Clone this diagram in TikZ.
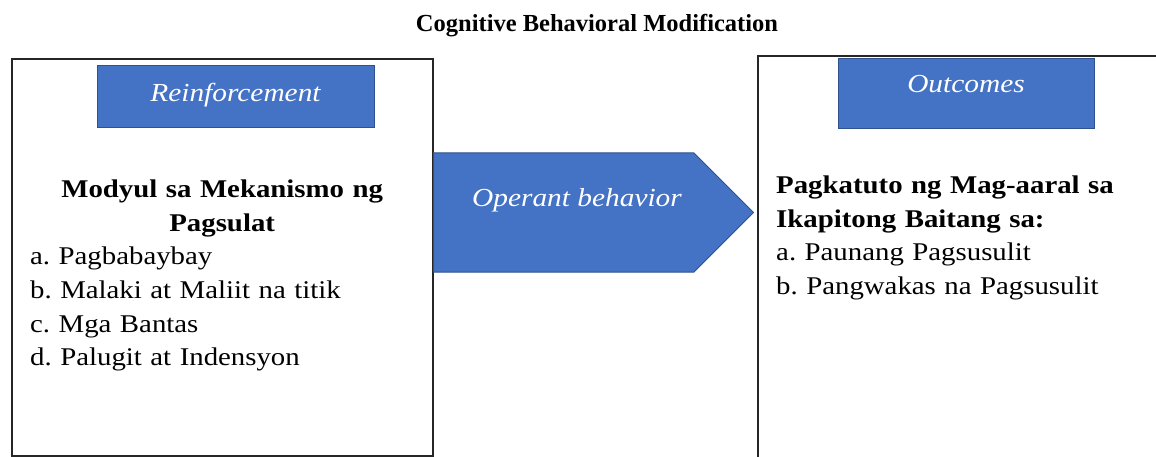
\documentclass[tikz,border=0pt]{standalone}
\usepackage{fontspec}
\setmainfont[FakeStretch=1.13]{Liberation Serif}
\newfontfamily\titlefont{Liberation Serif}
\usetikzlibrary{calc,shapes.symbols}
\definecolor{boxblue}{HTML}{4472C4}
\definecolor{boxedge}{HTML}{2F528F}
\frenchspacing
\tikzset{
	frame/.style={draw=black!85, line width=1.3pt, inner sep=0pt},
	bluebox/.style={draw=boxedge, fill=boxblue, line width=1pt, inner sep=0pt},
	bluetext/.style={text=white, font=\fontsize{26}{30}\selectfont\itshape, inner sep=0pt},
	bodytext/.style={font=\fontsize{25.5}{33.7}\selectfont\frenchspacing, inner sep=0pt, align=left}
}

\begin{document}
\begin{tikzpicture}[x=1pt, y=-1pt]
			%%%%% START %%%%%
			
			\useasboundingbox (0, 0) rectangle (1156, 457);
			\clip (0, 0) rectangle (1156, 457);
			
			\node[font=\titlefont\fontsize{24.5}{28}\selectfont\bfseries, inner sep=0pt, anchor=base] (title) at (597, 32) {Cognitive Behavioral Modification};
			
			\node[frame, minimum width=421, minimum height=397] (leftbox) at (222.5, 257.5) {};
			\node[frame, minimum width=420, minimum height=420] (rightbox) at (968, 266) {};
			
			\node[bluebox, minimum width=277, minimum height=62] (reinf) at (235.5, 97) {};
			\node[bluetext, anchor=base] (reinftext) at ($(reinf.center)+(0, 5)$) {Reinforcement};
			
			\node[bluebox, minimum width=256, minimum height=70] (outc) at (966, 94) {};
			\node[bluetext, anchor=base] (outctext) at ($(outc.center)+(0, -1)$) {Outcomes};
			
			\node[bluebox, signal, signal to=east, signal from=nowhere, signal pointer angle=90, minimum width=320, minimum height=119, anchor=west] (operant) at (433, 212.5) {};
			\node[bluetext, anchor=base] (operanttext) at (577, 207) {Operant behavior};
			
			\node[bodytext, text width=384, anchor=north west] (lefttext) at (30, 179.5) {%
				{\centering\bfseries Modyul sa Mekanismo ng\\ Pagsulat\par}
				\raggedright
				a. Pagbabaybay\\
				b. Malaki at Maliit na titik\\
				c. Mga Bantas\\
				d. Palugit at Indensyon};
			
			\node[bodytext, text width=370, anchor=north west] (righttext) at (776, 175.5) {%
				\raggedright
				{\bfseries Pagkatuto ng Mag-aaral sa\\ Ikapitong Baitang sa:\par}
				a. Paunang Pagsusulit\\
				b. Pangwakas na Pagsusulit};
			
			%%%%% END %%%%%
		\end{tikzpicture}
\end{document}
